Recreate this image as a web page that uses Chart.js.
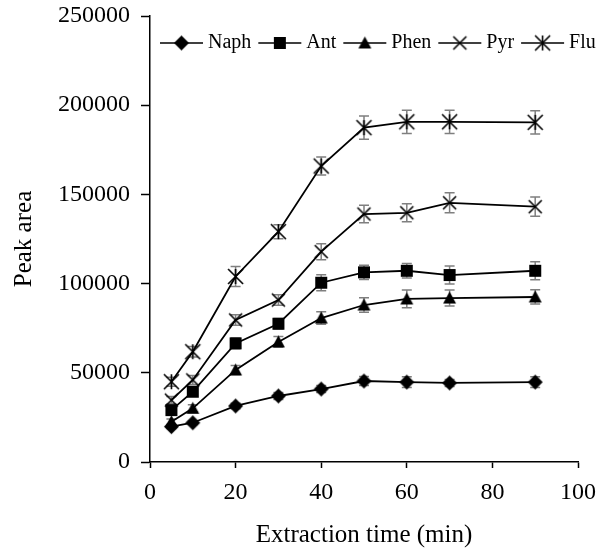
<!DOCTYPE html>
<html>
<head>
<meta charset="utf-8">
<script src="https://cdn.jsdelivr.net/npm/chart.js@4.4.0/dist/chart.umd.min.js"></script>
<style>
  html, body { margin: 0; padding: 0; background: #fff; }
</style>
</head>
<body>
<canvas id="grafico" width="602" height="550"></canvas>
<script>
// tiempos de extraccion (min)
const tiempos = [5, 10, 20, 30, 40, 50, 60, 70, 90];

const naph = [19800, 22000, 31400, 37000, 40900, 45400, 44800, 44300, 44800];
const ant  = [29100, 39400, 66500, 77500, 100500, 106300, 107200, 104800, 107200];
const phen = [22600, 30100, 51600, 67300, 80700, 88000, 91400, 91900, 92500];
const pyr  = [34700, 46000, 79600, 90800, 117900, 139000, 139700, 145300, 143100];
const flu  = [45000, 61800, 104000, 129100, 165900, 187400, 190700, 190700, 190400];

// barras de error
const naphErr = [1000, 1000, 1500, 2000, 2000, 2500, 3000, 2000, 3000];
const antErr  = [2000, 2500, 3000, 3000, 4500, 4000, 4000, 5000, 5000];
const phenErr = [1500, 2000, 2500, 3000, 3500, 4000, 5000, 4500, 4000];
const pyrErr  = [2000, 2500, 3000, 3000, 4500, 4900, 5000, 5600, 5400];
const fluErr  = [2500, 3000, 5600, 3900, 5000, 6500, 6500, 6500, 6500];

const xTicks = [0, 20, 40, 60, 80, 100];
const yTicks = [0, 50000, 100000, 150000, 200000, 250000];

const fuente = '"Liberation Serif", "Times New Roman", serif';

function marca(tipo, tam){
	const c = document.createElement('canvas');
	c.width = tam + 4;
	c.height = tam + 4;
	const ctx = c.getContext('2d');
	const m = c.width / 2, r = tam / 2;
	ctx.fillStyle = '#000';
	ctx.strokeStyle = '#000';
	ctx.lineWidth = 1.6;
	ctx.beginPath();
	switch(tipo){
		case 'rombo':
			ctx.moveTo(m, m - r); ctx.lineTo(m + r, m); ctx.lineTo(m, m + r); ctx.lineTo(m - r, m);
			ctx.closePath(); ctx.fill();
			break;
		case 'cuadro':
			ctx.fillRect(m - r, m - r, tam, tam);
			break;
		case 'triangulo':
			ctx.moveTo(m, m - r); ctx.lineTo(m + r, m + r * 0.85); ctx.lineTo(m - r, m + r * 0.85);
			ctx.closePath(); ctx.fill();
			break;
		case 'cruz':
			ctx.moveTo(m - r, m - r); ctx.lineTo(m + r, m + r);
			ctx.moveTo(m + r, m - r); ctx.lineTo(m - r, m + r);
			ctx.stroke();
			break;
		case 'asterisco':
			ctx.moveTo(m - r, m - r); ctx.lineTo(m + r, m + r);
			ctx.moveTo(m + r, m - r); ctx.lineTo(m - r, m + r);
			ctx.moveTo(m, m - r); ctx.lineTo(m, m + r);
			ctx.stroke();
			break;
	}
	return c;
}

function puntos(valores){
	return tiempos.map((t, i) => ({x: t, y: valores[i]}));
}

const series = [
	{label: 'Naph', data: naph, err: naphErr, marca: marca('rombo', 15)},
	{label: 'Ant',  data: ant,  err: antErr,  marca: marca('cuadro', 12)},
	{label: 'Phen', data: phen, err: phenErr, marca: marca('triangulo', 13)},
	{label: 'Pyr',  data: pyr,  err: pyrErr,  marca: marca('cruz', 13)},
	{label: 'Flu',  data: flu,  err: fluErr,  marca: marca('asterisco', 15)}
];

const barrasError = {
	id: 'barrasError',
	beforeDatasetsDraw(chart){
		const {ctx, scales: {y}} = chart;
		ctx.save();
		ctx.strokeStyle = '#7f7f7f';
		ctx.lineWidth = 1.5;
		chart.data.datasets.forEach((ds, k) => {
			const meta = chart.getDatasetMeta(k);
			const err = series[k].err;
			meta.data.forEach((p, i) => {
				const v = ds.data[i].y;
				const y1 = y.getPixelForValue(v + err[i]);
				const y2 = y.getPixelForValue(v - err[i]);
				ctx.beginPath();
				ctx.moveTo(p.x, y1); ctx.lineTo(p.x, y2);
				ctx.moveTo(p.x - 5, y1); ctx.lineTo(p.x + 5, y1);
				ctx.moveTo(p.x - 5, y2); ctx.lineTo(p.x + 5, y2);
				ctx.stroke();
			});
		});
		ctx.restore();
	}
};

const leyenda = {
	id: 'leyenda',
	afterDraw(chart){
		const {ctx, chartArea} = chart;
		let x = chartArea.left + 10;
		const y = chartArea.top + 27;
		ctx.save();
		ctx.font = '20px ' + fuente;
		ctx.fillStyle = '#000';
		ctx.strokeStyle = '#000';
		ctx.textBaseline = 'middle';
		ctx.lineWidth = 1.6;
		series.forEach(s => {
			ctx.beginPath();
			ctx.moveTo(x, y); ctx.lineTo(x + 43, y);
			ctx.stroke();
			ctx.drawImage(s.marca, x + 21.5 - s.marca.width / 2, y - s.marca.height / 2);
			x += 48;
			ctx.fillText(s.label, x, y);
			x += ctx.measureText(s.label).width + 7;
		});
		ctx.restore();
	}
};

new Chart('grafico', {
	type: 'line',
	data: {
		datasets: series.map(s => ({
			label: s.label,
			data: puntos(s.data),
			borderColor: '#000',
			borderWidth: 1.8,
			pointStyle: s.marca,
			pointRadius: 7,
			fill: false,
			tension: 0
		}))
	},
	options: {
		responsive: false,
		animation: false,
		devicePixelRatio: 1,
		layout: {padding: {top: 16, right: 24, left: 0, bottom: 0}},
		plugins: {
			legend: {display: false},
			tooltip: {enabled: false}
		},
		scales: {
			x: {
				type: 'linear',
				min: 0,
				max: 100,
				afterFit(scale){ scale.height = 88; scale.paddingLeft = 0; scale.paddingRight = 0; },
				afterBuildTicks(scale){ scale.ticks = xTicks.map(v => ({value: v})); },
				grid: {drawOnChartArea: false, drawTicks: true, tickLength: 6, tickColor: '#000', tickWidth: 1.5},
				border: {display: true, color: '#000', width: 1.5},
				ticks: {color: '#000', padding: 10, font: {family: fuente, size: 24}, maxRotation: 0},
				title: {display: true, text: 'Extraction time (min)', color: '#000', font: {family: fuente, size: 25}, padding: {top: 0, bottom: 0}}
			},
			y: {
				min: 0,
				max: 250000,
				afterFit(scale){ scale.width = 150; scale.paddingTop = 0; scale.paddingBottom = 0; },
				afterBuildTicks(scale){ scale.ticks = yTicks.map(v => ({value: v})); },
				grid: {drawOnChartArea: false, drawTicks: true, tickLength: 9, tickColor: '#000', tickWidth: 1.5},
				border: {display: true, color: '#000', width: 1.5},
				ticks: {color: '#000', padding: 11, font: {family: fuente, size: 24}, callback: v => String(v)},
				title: {display: true, text: 'Peak area', color: '#000', font: {family: fuente, size: 25}, padding: {top: 9, bottom: 0}}
			}
		}
	},
	plugins: [barrasError, leyenda]
});
</script>
</body>
</html>
